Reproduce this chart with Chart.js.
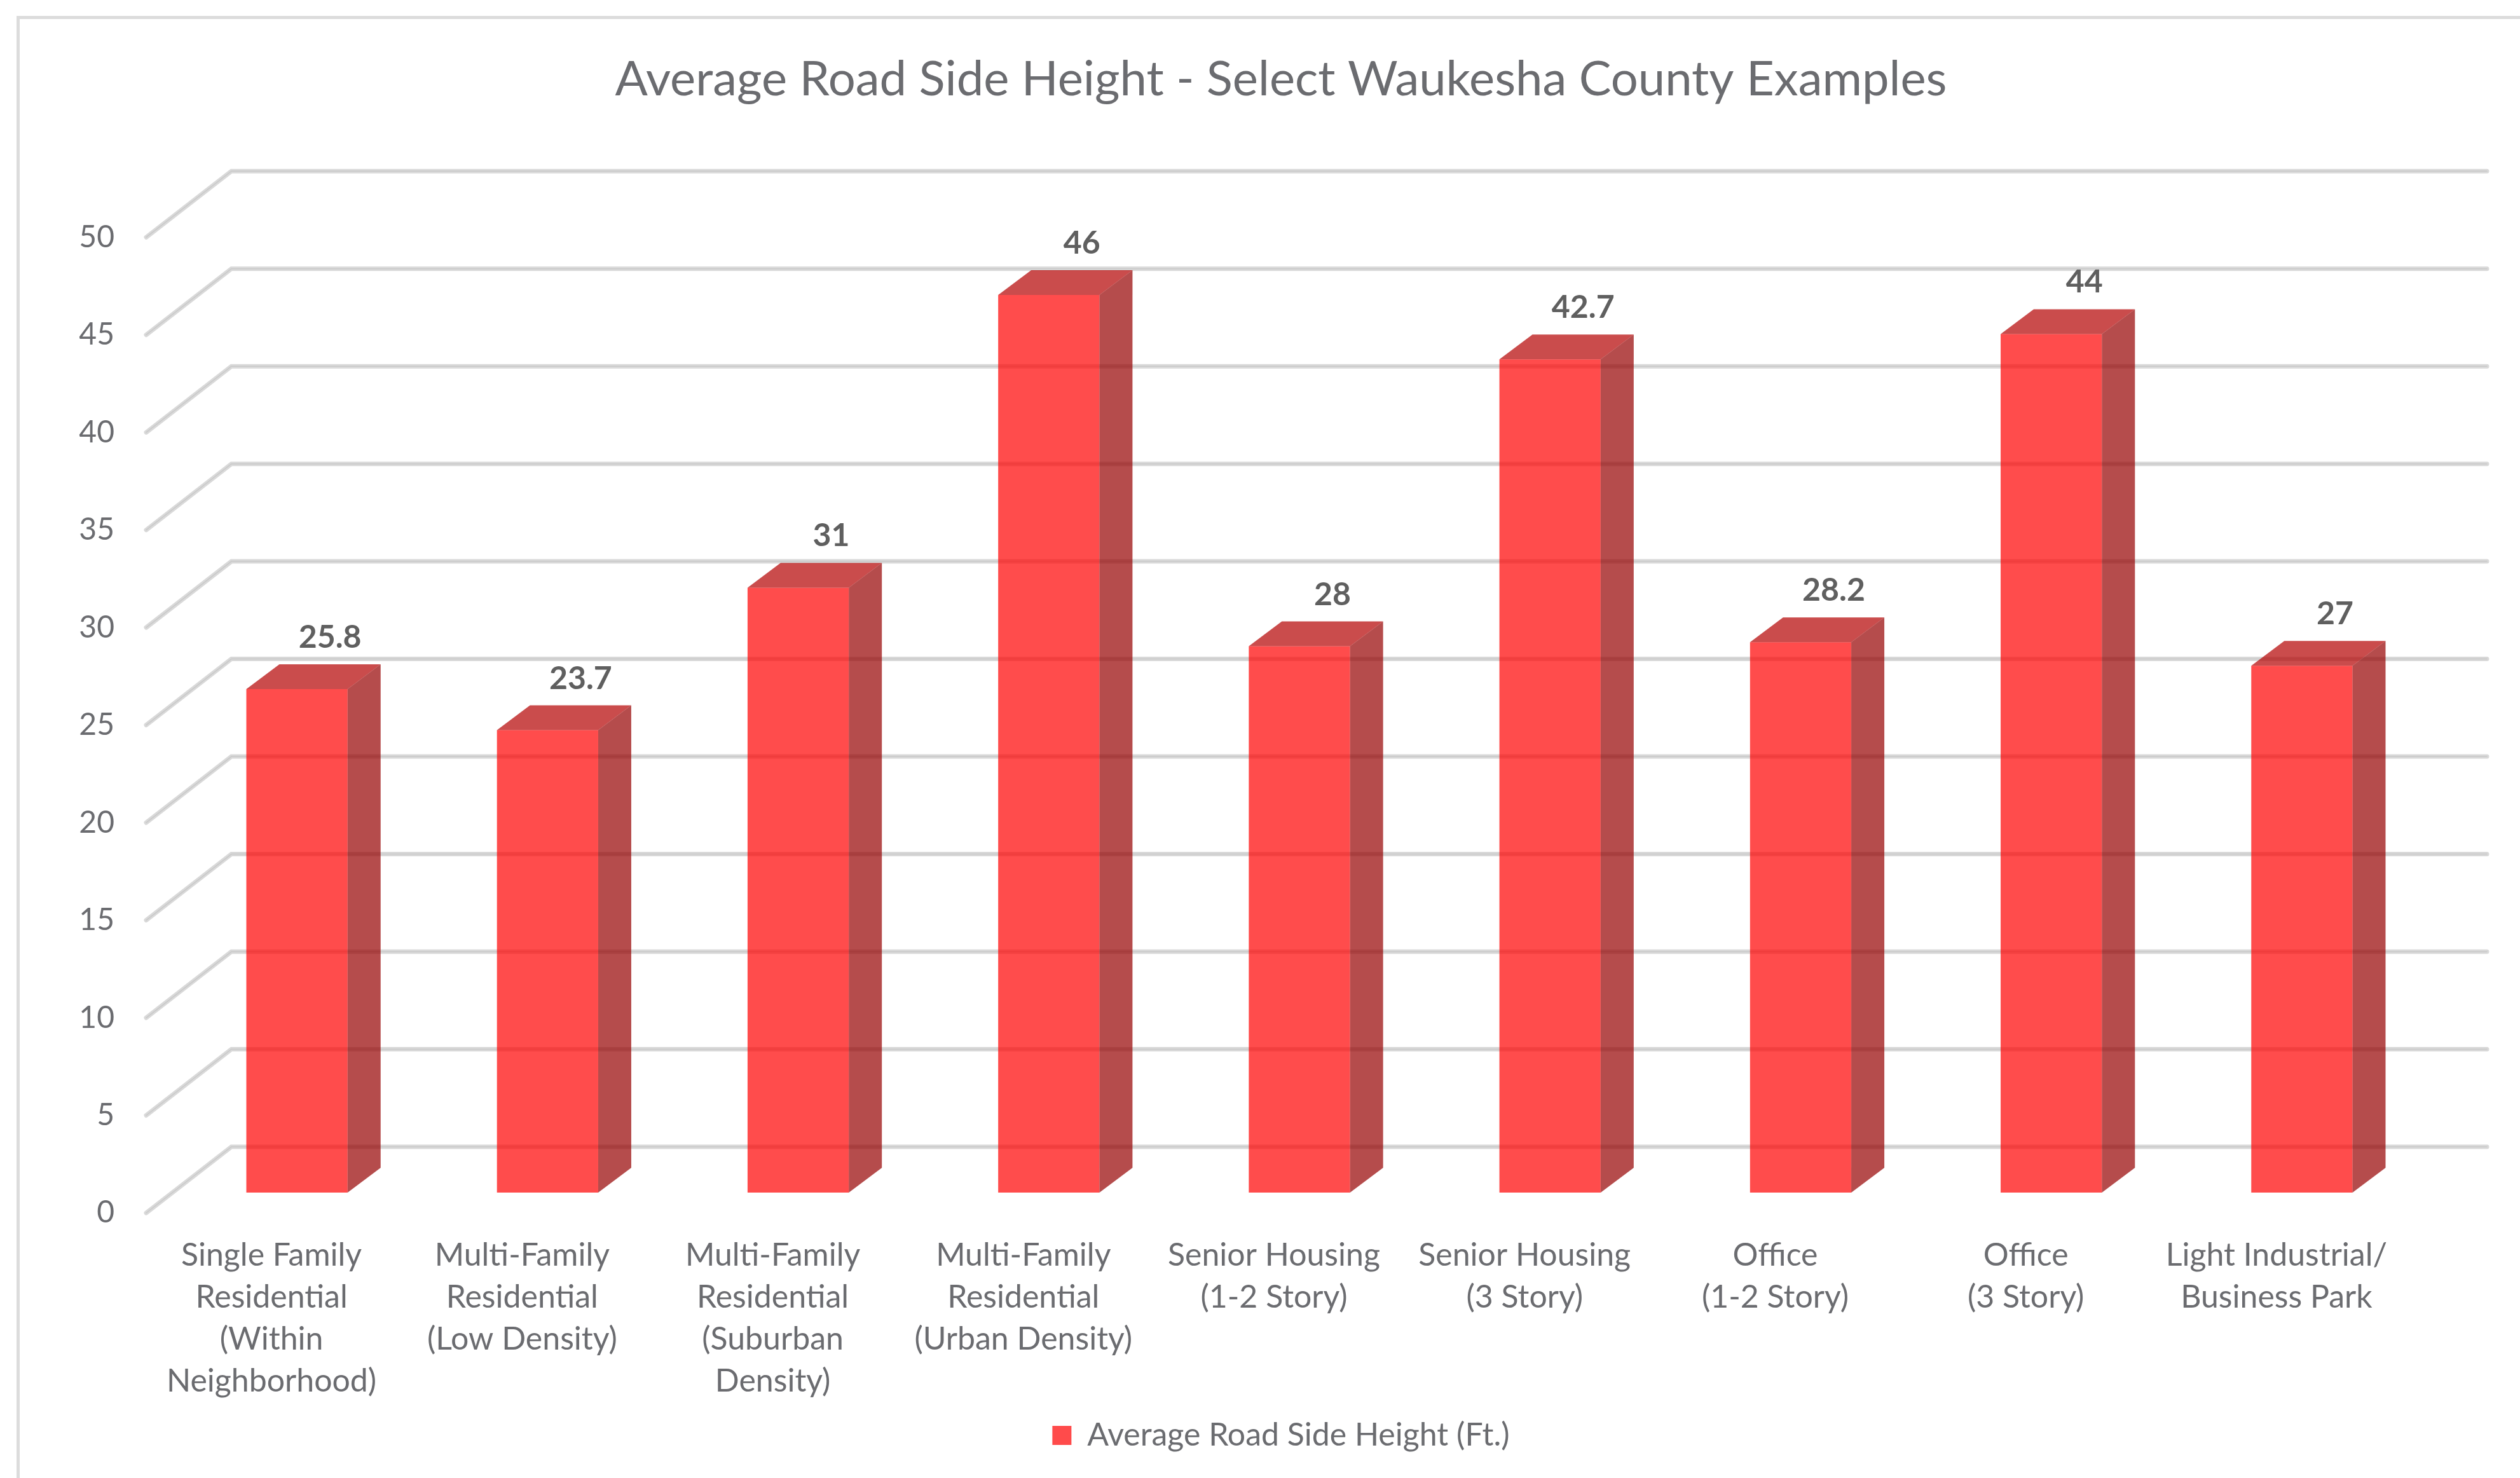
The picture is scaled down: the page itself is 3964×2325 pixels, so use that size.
<!DOCTYPE html>
<html>
<head>
<meta charset="utf-8">
<script src="https://cdn.jsdelivr.net/npm/chart.js@4.4.1/dist/chart.umd.min.js"></script>
<style>
  html, body { margin: 0; padding: 0; background: #fff; }
  #wrap { position: relative; width: 3964px; height: 2325px; }
  #frame { position: absolute; left: 26px; top: 25px; right: -10px; bottom: -10px; border: 5px solid #dcdcdc; }
  canvas { position: absolute; left: 0; top: 0; }
</style>
</head>
<body>
<div id="wrap">
  <div id="frame"></div>
  <canvas id="chart" width="3964" height="2325"></canvas>
</div>
<script>
// categories (multi-line labels as in the original)
const categories = [
    ['Single Family', 'Residential', '(Within', 'Neighborhood)'],
    ['Multi-Family', 'Residential', '(Low Density)'],
    ['Multi-Family', 'Residential', '(Suburban', 'Density)'],
    ['Multi-Family', 'Residential', '(Urban Density)'],
    ['Senior Housing', '(1-2 Story)'],
    ['Senior Housing', '(3 Story)'],
    ['Office', '(1-2 Story)'],
    ['Office', '(3 Story)'],
    ['Light Industrial/', 'Business Park']
];
const roadSideHeight = [25.8, 23.7, 31, 46, 28, 42.7, 28.2, 44, 27];
const yTicks = [0, 5, 10, 15, 20, 25, 30, 35, 40, 45, 50];

const FONT = "Lato, 'Open Sans', sans-serif";
const TEXT = '#6b6c70';

// pseudo 3D geometry (px)
const BAR_SHIFT = { x: 40, y: -32 };   // front face of bars relative to the floor front
const BAR_DEPTH = { x: 52, y: -39 };   // depth of each bar
const WALL_BACK = { x: 134, y: -104 }; // back wall relative to the front edge

const bar3d = {
    id: 'bar3d',
    beforeDatasetsDraw(chart) {
        const { ctx, chartArea, scales } = chart;
        const ys = scales.y;
        ctx.save();
        ctx.lineCap = 'round';
        yTicks.forEach(v => {
            const py = ys.getPixelForValue(v);
            ctx.beginPath();
            ctx.moveTo(chartArea.left, py);
            ctx.lineTo(chartArea.left + WALL_BACK.x, py + WALL_BACK.y);
            ctx.lineTo(chartArea.right + WALL_BACK.x, py + WALL_BACK.y);
            ctx.strokeStyle = '#d9d9d9';
            ctx.lineWidth = 7;
            ctx.stroke();
            ctx.strokeStyle = 'rgba(190,190,190,0.6)';
            ctx.lineWidth = 1.5;
            ctx.stroke();
        });
        ctx.restore();
        // shift the bars into the depth of the scene
        ctx.save();
        ctx.translate(BAR_SHIFT.x, BAR_SHIFT.y);
    },
    afterDatasetsDraw(chart) {
        const { ctx } = chart;
        const meta = chart.getDatasetMeta(0);
        meta.data.forEach((bar, i) => {
            const { x, y, base, width } = bar.getProps(['x', 'y', 'base', 'width'], true);
            const l = x - width / 2, r = x + width / 2;
            // top face
            ctx.beginPath();
            ctx.moveTo(l, y);
            ctx.lineTo(r, y);
            ctx.lineTo(r + BAR_DEPTH.x, y + BAR_DEPTH.y);
            ctx.lineTo(l + BAR_DEPTH.x, y + BAR_DEPTH.y);
            ctx.closePath();
            ctx.fillStyle = 'rgba(180,0,0,0.7)';
            ctx.fill();
            // side face
            ctx.beginPath();
            ctx.moveTo(r, y);
            ctx.lineTo(r, base);
            ctx.lineTo(r + BAR_DEPTH.x, base + BAR_DEPTH.y);
            ctx.lineTo(r + BAR_DEPTH.x, y + BAR_DEPTH.y);
            ctx.closePath();
            ctx.fillStyle = 'rgba(150,0,0,0.7)';
            ctx.fill();
            // value label
            ctx.fillStyle = '#5f5f5f';
            ctx.font = "bold 50px " + FONT;
            ctx.textAlign = 'center';
            ctx.textBaseline = 'alphabetic';
            ctx.fillText(String(roadSideHeight[i]), x + BAR_DEPTH.x, y + BAR_DEPTH.y - 26);
        });
        ctx.restore();
    }
};

new Chart(document.getElementById('chart'), {
    type: 'bar',
    data: {
        labels: categories,
        datasets: [{
            label: 'Average Road Side Height (Ft.)',
            data: roadSideHeight,
            backgroundColor: 'rgba(255,0,0,0.7)',
            borderWidth: 0,
            barPercentage: 0.404,
            categoryPercentage: 1.0
        }]
    },
    options: {
        responsive: false,
        animation: false,
        layout: { padding: { top: 80, bottom: 32, left: 66, right: 0 } },
        plugins: {
            title: {
                display: true,
                text: 'Average Road Side Height - Select Waukesha County Examples',
                color: '#6b6c70',
                font: { family: FONT, size: 76, weight: 'normal', lineHeight: 1.2 },
                padding: { top: 0, bottom: 202 }
            },
            legend: {
                position: 'bottom',
                labels: {
                    color: TEXT,
                    font: { family: FONT, size: 50 },
                    boxWidth: 30,
                    boxHeight: 30,
                    padding: 20,
                    generateLabels: (chart) => [{
                        text: chart.data.datasets[0].label,
                        fillStyle: '#ff4b4b',
                        strokeStyle: '#ff4b4b',
                        lineWidth: 0,
                        fontColor: TEXT,
                        datasetIndex: 0
                    }]
                }
            },
            tooltip: { enabled: false }
        },
        scales: {
            x: {
                grid: { display: false, drawTicks: false },
                border: { display: false },
                ticks: {
                    color: TEXT,
                    font: { family: FONT, size: 50, lineHeight: 1.32 },
                    padding: 34,
                    maxRotation: 0,
                    autoSkip: false
                },
                afterFit: (scale) => { scale.height = 305; }
            },
            y: {
                min: 0,
                max: 50,
                grid: { display: false, drawTicks: false },
                border: { display: false },
                ticks: {
                    stepSize: 5,
                    color: TEXT,
                    font: { family: FONT, size: 48 },
                    padding: 50
                },
                afterFit: (scale) => { scale.width = 164; }
            },
            // empty right-hand spacer so the plot ends where the original does
            spacer: {
                type: 'linear',
                position: 'right',
                grid: { display: false, drawTicks: false },
                border: { display: false },
                ticks: { display: false },
                afterFit: (scale) => { scale.width = 186; }
            }
        }
    },
    plugins: [bar3d]
});
</script>
</body>
</html>
